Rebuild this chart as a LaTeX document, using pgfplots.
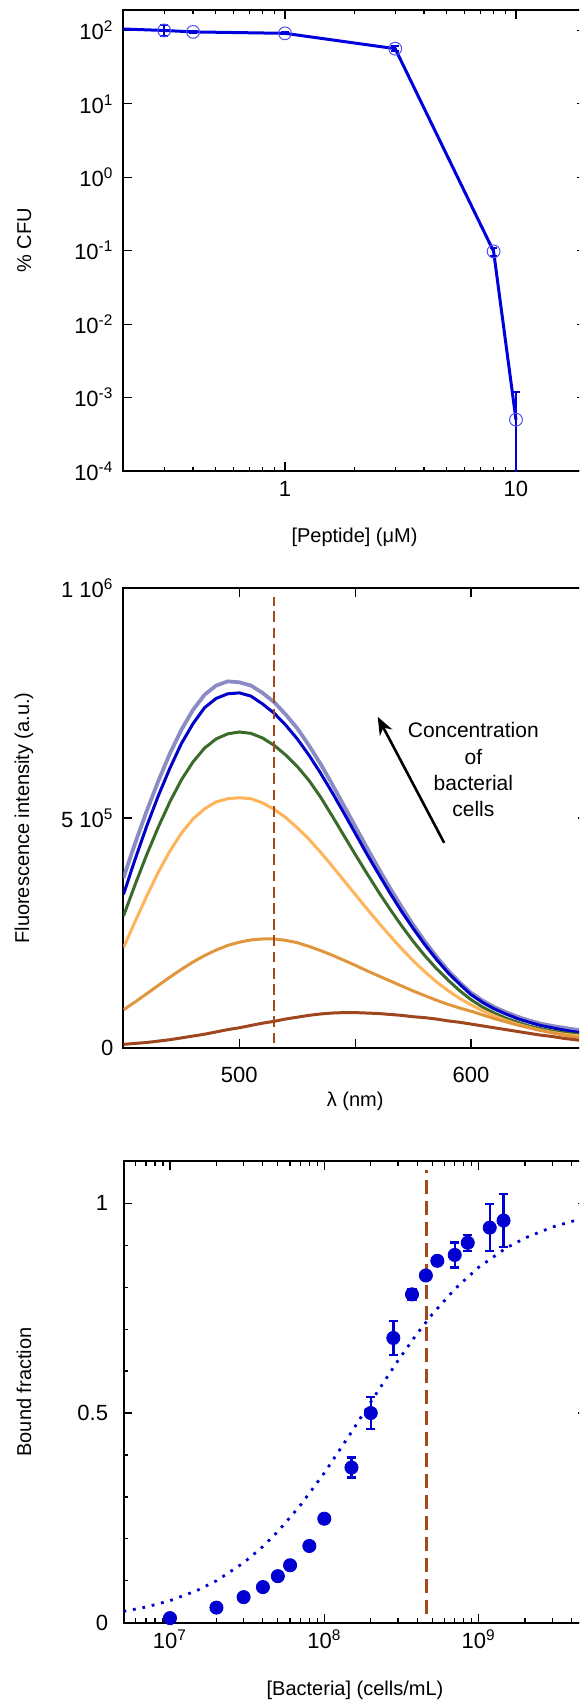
\documentclass[border=0pt]{standalone}
\usepackage{fontspec}
\setmainfont{Liberation Sans}
\usepackage{pgfplots}
\usepackage{pgfplotstable}
\pgfplotsset{compat=1.18}
\usetikzlibrary{arrows.meta}

\definecolor{lineblue}{HTML}{0000DD}
\definecolor{markblue}{HTML}{5050F5}
\definecolor{ptblue}{HTML}{0000D0}
\definecolor{dashbrown}{HTML}{A34A1C}
\definecolor{clav}{HTML}{8C8CC4}
\definecolor{cblue}{HTML}{0000C8}
\definecolor{cgreen}{HTML}{3A6B2A}
\definecolor{corlight}{HTML}{FFB45A}
\definecolor{cordark}{HTML}{E0963C}
\definecolor{cbrown}{HTML}{A0461E}

% spectra, intensity in units of 1e5 a.u.
\pgfplotstableread{
wl  L    B    G    Ol   Od   Br
450 3.70 3.34 2.87 2.18 0.83 0.08
455 4.45 4.10 3.55 2.75 1.00 0.10
460 5.15 4.82 4.20 3.30 1.18 0.12
465 5.80 5.48 4.80 3.82 1.36 0.15
470 6.40 6.08 5.35 4.28 1.54 0.18
475 6.92 6.62 5.83 4.67 1.71 0.22
480 7.35 7.05 6.22 4.98 1.87 0.26
485 7.68 7.40 6.52 5.20 2.01 0.30
490 7.88 7.60 6.72 5.35 2.13 0.35
495 7.97 7.70 6.83 5.42 2.23 0.40
500 7.95 7.72 6.87 5.44 2.30 0.44
505 7.88 7.65 6.84 5.42 2.35 0.49
510 7.72 7.48 6.74 5.33 2.37 0.54
515 7.52 7.28 6.58 5.19 2.37 0.58
520 7.25 7.02 6.37 5.01 2.34 0.63
525 6.95 6.72 6.12 4.79 2.29 0.67
530 6.58 6.37 5.82 4.54 2.21 0.71
535 6.18 5.98 5.46 4.26 2.12 0.74
540 5.74 5.56 5.05 3.96 2.02 0.76
545 5.28 5.12 4.63 3.65 1.91 0.77
550 4.82 4.67 4.21 3.34 1.80 0.77
555 4.36 4.22 3.80 3.03 1.68 0.76
560 3.91 3.79 3.40 2.73 1.57 0.75
565 3.48 3.37 3.02 2.44 1.46 0.73
570 3.07 2.97 2.66 2.16 1.35 0.71
575 2.68 2.60 2.32 1.90 1.24 0.68
580 2.32 2.25 2.01 1.66 1.14 0.66
585 1.99 1.93 1.73 1.44 1.04 0.63
590 1.69 1.64 1.48 1.25 0.95 0.59
595 1.43 1.39 1.25 1.08 0.87 0.56
600 1.20 1.16 1.05 0.94 0.80 0.52
605 1.03 0.99 0.89 0.81 0.72 0.48
610 0.89 0.85 0.76 0.70 0.64 0.44
615 0.78 0.74 0.65 0.60 0.57 0.40
620 0.68 0.64 0.56 0.52 0.50 0.36
625 0.60 0.56 0.48 0.45 0.44 0.32
630 0.53 0.49 0.42 0.39 0.38 0.28
635 0.48 0.44 0.37 0.34 0.33 0.25
640 0.44 0.39 0.33 0.30 0.28 0.21
645 0.40 0.35 0.30 0.27 0.24 0.18
650 0.37 0.32 0.28 0.25 0.21 0.15
}\spectra

\pgfplotsset{
  myax/.style={
    scale only axis,
    anchor=north west,
    tick align=inside,
    major tick length=4.3pt,
    minor tick length=2.2pt,
    axis line style={line width=1pt},
    every tick/.style={black, line width=0.6pt},
    tick label style={font=\fontsize{11}{13}\selectfont},
    label style={font=\fontsize{11}{13}\selectfont},
    /pgf/number format/assume math mode=true,
    every axis y label/.style={at={(axis description cs:-0.215,0.5)}, rotate=90, anchor=center},
  }
}

\begin{document}
\begin{tikzpicture}
\useasboundingbox (-61.75pt,5pt) rectangle (227.75pt,-848pt);
\clip (-61.75pt,5pt) rectangle (227.75pt,-848pt);

% ---------- panel 1: killing curve
\begin{axis}[myax, at={(0pt,0pt)}, width=231pt, height=230.5pt,
  xmode=log, ymode=log,
  xmin=0.2, xmax=20, ymin=1e-4, ymax=190,
  xtick={1,10}, xticklabels={1,10},
  minor xtick={0.3,0.4,0.5,0.6,0.7,0.8,0.9,2,3,4,5,6,7,8,9},
  ytick={1e-4,1e-3,1e-2,1e-1,1,10,100},
  yticklabels={10\textsuperscript{-4},10\textsuperscript{-3},10\textsuperscript{-2},10\textsuperscript{-1},10\textsuperscript{0},10\textsuperscript{1},10\textsuperscript{2}},
  yminorticks=false,
  xticklabel style={yshift=-1.5pt},
  yticklabel style={xshift=-1.5pt},
  every axis x label/.style={at={(axis description cs:0.5,-0.143)}, anchor=center},
  xlabel={[Peptide] (μM)},
  ylabel={\% CFU},
]
\addplot[lineblue, line width=1.5pt, mark=none,
  error bars/.cd, y dir=both, y explicit,
  error bar style={line width=1pt, lineblue},
  error mark options={rotate=90, mark size=1.9pt, line width=1pt, lineblue}]
  coordinates {
  (0.1,113) += (0,0) -= (0,0)
  (0.3,100) += (0,17) -= (0,16)
  (0.4,95.6) += (0,4) -= (0,4)
  (1,91.4) += (0,3) -= (0,3)
  (3,56.5) += (0,4) -= (0,4)
  (8,0.098) += (0,0.012) -= (0,0.012)
  (10,5e-4) += (0,7e-4) -= (0,4.999e-4)
};
\addplot[only marks, mark=o, mark size=3.2pt, mark options={markblue, line width=0.5pt}]
  coordinates {(0.3,100) (0.4,95.6) (1,91.4) (3,56.5) (8,0.098) (10,5e-4)};
\end{axis}

% ---------- panel 2: fluorescence spectra
\begin{axis}[myax, at={(0pt,-289pt)}, width=231.7pt, height=230pt,
  xmin=450, xmax=650, ymin=0, ymax=10,
  xtick={500,550,600,650}, xticklabels={500,,600,},
  ytick={0,5,10}, yticklabels={0,5 10\textsuperscript{5},1 10\textsuperscript{6}},
  xticklabel style={yshift=-6pt},
  yticklabel style={xshift=-1.5pt},
  every axis x label/.style={at={(axis description cs:0.5,-0.115)}, anchor=center},
  xlabel={λ (nm)},
  ylabel={Fluorescence intensity (a.u.)},
]
\addplot[clav, line width=1.9pt] table[x=wl, y=L] {\spectra};
\addplot[cblue, line width=1.5pt] table[x=wl, y=B] {\spectra};
\addplot[cgreen, line width=1.5pt] table[x=wl, y=G] {\spectra};
\addplot[corlight, line width=1.5pt] table[x=wl, y=Ol] {\spectra};
\addplot[cordark, line width=1.5pt] table[x=wl, y=Od] {\spectra};
\addplot[cbrown, line width=1.5pt] table[x=wl, y=Br] {\spectra};
\addplot[dashbrown, line width=1.2pt, dash pattern=on 5.4pt off 2.7pt] coordinates {(515,0.1) (515,9.8)};
\draw[-{Stealth[length=9pt,width=7pt]}, line width=1.3pt] (axis cs:588.4,4.46) -- (axis cs:559.7,7.2);
\node[align=center, font=\fontsize{10.5}{13.2}\selectfont] at (axis cs:601,6.05) {Concentration\\of\\bacterial\\cells};
\end{axis}

% ---------- panel 3: binding curve
\begin{axis}[myax, at={(0pt,-575.7pt)}, width=231.5pt, height=230.65pt,
  xmode=log,
  xmin=5e6, xmax=5e9, ymin=0, ymax=1.1,
  xtick={1e7,1e8,1e9},
  xticklabels={10\textsuperscript{7},10\textsuperscript{8},10\textsuperscript{9}},
  minor xtick={6e6,7e6,8e6,9e6,2e7,3e7,4e7,5e7,6e7,7e7,8e7,9e7,2e8,3e8,4e8,5e8,6e8,7e8,8e8,9e8,2e9,3e9,4e9},
  ytick={0,0.5,1}, yticklabels={0,0.5,1},
  minor ytick={0.1,0.2,0.3,0.4,0.6,0.7,0.8,0.9},
  xticklabel style={yshift=0pt},
  yticklabel style={xshift=-4.2pt},
  every axis x label/.style={at={(axis description cs:0.5,-0.146)}, anchor=center},
  xlabel={[Bacteria] (cells/mL)},
  ylabel={Bound fraction},
]
\addplot[dashbrown, line width=1.2pt, dash pattern=on 7pt off 3.5pt] coordinates {(4.6e8,0.02) (4.6e8,1.08)};
\addplot[ptblue, line width=1.4pt, dash pattern=on 1.4pt off 3.4pt] coordinates {
  (5e6,0.0270) (7e6,0.0374) (1e7,0.0526) (1.5e7,0.0769) (2e7,0.1) (3e7,0.1429)
  (4e7,0.1818) (5e7,0.2174) (7e7,0.28) (1e8,0.3571) (1.5e8,0.4545) (2e8,0.5263)
  (3e8,0.625) (4e8,0.6897) (5e8,0.7353) (7e8,0.7955) (1e9,0.8475) (1.5e9,0.8929)
  (2e9,0.9174) (3e9,0.9434) (4e9,0.9569) (5e9,0.9653)
};
\addplot[ptblue, only marks, mark=*, mark size=3.3pt,
  error bars/.cd, y dir=both, y explicit,
  error bar style={line width=1.2pt, ptblue},
  error mark options={rotate=90, mark size=2.3pt, line width=1.2pt, ptblue}]
  coordinates {
  (1e7,0.011) +- (0,0)
  (2e7,0.036) +- (0,0)
  (3e7,0.061) +- (0,0)
  (4e7,0.085) +- (0,0)
  (5e7,0.111) +- (0,0)
  (6e7,0.137) +- (0,0)
  (8e7,0.183) +- (0,0)
  (1e8,0.248) +- (0,0)
  (1.5e8,0.370) +- (0,0.024)
  (2e8,0.500) +- (0,0.038)
  (2.8e8,0.679) +- (0,0.040)
  (3.7e8,0.783) +- (0,0.012)
  (4.55e8,0.828) +- (0,0)
  (5.4e8,0.863) +- (0,0)
  (7e8,0.877) +- (0,0.030)
  (8.5e8,0.906) +- (0,0.019)
  (1.18e9,0.942) +- (0,0.056)
  (1.45e9,0.959) +- (0,0.063)
};
\end{axis}
\end{tikzpicture}
\end{document}
